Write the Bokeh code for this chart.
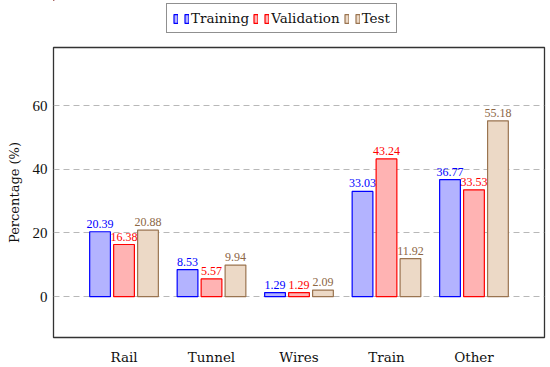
from bokeh.plotting import figure
from bokeh.models import Range1d, ColumnDataSource, Legend, LegendItem, FixedTicker
from bokeh.layouts import column
from bokeh.embed import file_html
from bokeh.resources import INLINE
from bokeh.core.properties import value

categories = ["Rail", "Tunnel", "Wires", "Train", "Other"]
training = [20.39, 8.53, 1.29, 33.03, 36.77]
validation = [16.38, 5.57, 1.29, 43.24, 33.53]
test = [20.88, 9.94, 2.09, 11.92, 55.18]
series_names = ["Training", "Validation", "Test"]
y_ticks = [0, 20, 40, 60]

WFONT = "DejaVu Serif"
NFONT = "Liberation Serif"
fills = ["#b3b3ff", "#ffb3b3", "#ecd9c6"]
lines = ["#0000ff", "#ff0000", "#9a7450"]
texts = ["#0000ff", "#ff0000", "#8c6644"]
offsets = [-0.274, 0.0, 0.274]
series = [training, validation, test]

# ---- main chart ----
p = figure(width=550, height=323, output_backend="svg", toolbar_location=None,
           x_range=Range1d(0.194, 5.806), y_range=Range1d(-12.8, 78.2),
           min_border_left=53, min_border_right=6, min_border_bottom=30, min_border_top=3)

xs = list(range(1, len(categories) + 1))
for vals, f, lc, tc, off in zip(series, fills, lines, texts, offsets):
    src = ColumnDataSource(dict(x=[x + off for x in xs], top=vals,
                                lab=[f"{v:.2f}" for v in vals]))
    p.vbar(x="x", top="top", bottom=0, width=0.237, source=src,
           fill_color=f, line_color=lc, line_width=1.2)
    p.text(x="x", y="top", text="lab", source=src, text_align="center",
           text_baseline="bottom", y_offset=-4, text_color=tc,
           text_font=value(NFONT), text_font_size="12px")

p.xaxis.ticker = FixedTicker(ticks=xs)
p.xaxis.major_label_overrides = {x: c for x, c in zip(xs, categories)}
p.yaxis.ticker = FixedTicker(ticks=y_ticks)
p.yaxis.axis_label = "Percentage (%)"

for ax in (p.xaxis, p.yaxis):
    ax.axis_line_color = None
    ax.major_tick_line_color = None
    ax.minor_tick_line_color = None
    ax.major_tick_out = 0
    ax.major_tick_in = 0
    ax.minor_tick_out = 0
    ax.major_label_text_color = "#111111"
    ax.axis_label_text_font = WFONT
    ax.axis_label_text_font_style = "normal"
    ax.axis_label_text_font_size = "13px"
    ax.axis_label_text_color = "#111111"
p.xaxis.major_label_text_font = WFONT
p.xaxis.major_label_text_font_size = "13.5px"
p.yaxis.major_label_text_font = NFONT
p.yaxis.major_label_text_font_size = "15px"
p.xaxis.major_label_standoff = 11
p.yaxis.major_label_standoff = 6
p.yaxis.axis_label_standoff = 8

p.xgrid.grid_line_color = None
p.ygrid.grid_line_color = "#b8b8b8"
p.ygrid.grid_line_dash = "6 4"
p.ygrid.grid_line_width = 1

p.outline_line_color = "#333333"
p.outline_line_width = 1.3
p.background_fill_color = "white"
p.border_fill_color = "white"

# ---- legend strip (its bars lie outside its visible ranges) ----
lf = figure(width=550, height=44, output_backend="svg", toolbar_location=None,
            x_axis_type=None, y_axis_type=None,
            x_range=Range1d(100, 101), y_range=Range1d(-200, -100),
            min_border_left=0, min_border_right=0, min_border_top=0, min_border_bottom=0)
lf.outline_line_color = None
lf.xgrid.grid_line_color = None
lf.ygrid.grid_line_color = None
items = []
for vals, name, f, lc, off in zip(series, series_names, fills, lines, offsets):
    r = lf.vbar(x=[x + off for x in xs], top=vals, bottom=0, width=0.237,
                fill_color=f, line_color=lc, line_width=1.2)
    items.append(LegendItem(label="", renderers=[r]))
    items.append(LegendItem(label=name, renderers=[r]))
legend = Legend(items=items, orientation="horizontal", location=(113, 11),
                label_text_font=WFONT, label_text_font_size="13.5px",
                label_text_color="#111111", label_width=0,
                glyph_width=5, glyph_height=11, spacing=4, padding=6,
                label_standoff=2, border_line_color="#222222", border_line_width=1,
                margin=0, label_height=14, background_fill_alpha=1.0)
lf.add_layout(legend, "center")

open("out.html", "w").write(file_html(column(lf, p), INLINE))
